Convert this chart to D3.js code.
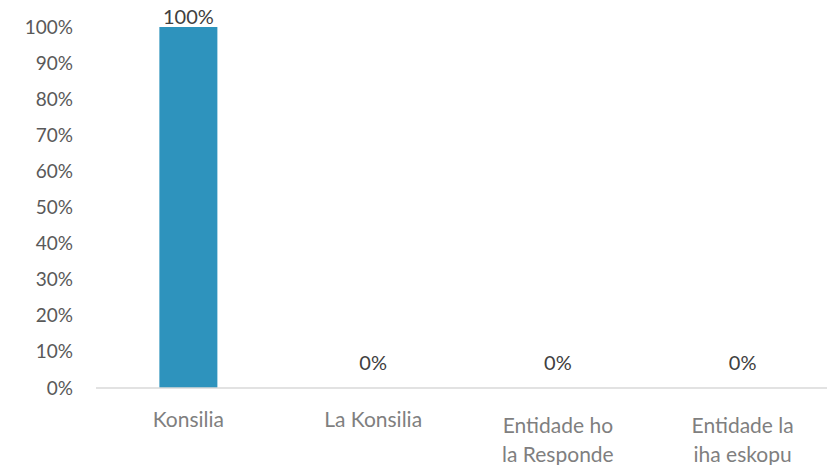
<!DOCTYPE html>
<html><head><meta charset="utf-8">
<script src="https://cdn.jsdelivr.net/npm/d3@7"></script>
<style>body{margin:0;background:#fff;overflow:hidden}svg{display:block}</style>
</head><body>
<script>
const categories = ["Konsilia", "La Konsilia", "Entidade ho la Responde", "Entidade la iha eskopu"];
const categoryLines = [["Konsilia"], ["La Konsilia"], ["Entidade ho", "la Responde"], ["Entidade la", "iha eskopu"]];
const values = [1.00, 0, 0, 0];
const yTicks = [0, 0.1, 0.2, 0.3, 0.4, 0.5, 0.6, 0.7, 0.8, 0.9, 1.0];

const W = 827, H = 465;
const m = {left: 96, top: 27, bottom: 77};
const plotRight = 835; // the original plot area runs slightly past the picture's right edge
const svg = d3.select("body").append("svg").attr("width", W).attr("height", H);
const font = "Lato, 'Open Sans', sans-serif";

const x = d3.scaleBand().domain(categories).range([m.left, plotRight]).paddingInner(0.686).paddingOuter(0.343);
const y = d3.scaleLinear().domain([0, 1]).range([H - m.bottom, m.top]);
const pct = d3.format(".0%");

// y axis labels
const yAxis = svg.append("g").attr("transform", `translate(${m.left},0)`)
  .call(d3.axisLeft(y).tickValues(yTicks).tickFormat(pct).tickSize(0).tickPadding(23));
yAxis.select(".domain").remove();
yAxis.selectAll("text").attr("font-family", font).attr("font-size", 19).attr("fill", "#595959");

// bars
svg.selectAll("rect.bar").data(values).join("rect").attr("class", "bar")
  .attr("x", (d, i) => x(categories[i]))
  .attr("width", x.bandwidth())
  .attr("y", d => y(d))
  .attr("height", d => y(0) - y(d))
  .attr("fill", "#2E93BD");

// baseline
svg.append("line").attr("x1", m.left).attr("x2", W)
  .attr("y1", y(0)).attr("y2", y(0)).attr("stroke", "#D9D9D9").attr("stroke-width", 1.5);

// data labels
svg.selectAll("text.val").data(values).join("text").attr("class", "val")
  .attr("x", (d, i) => x(categories[i]) + x.bandwidth() / 2)
  .attr("y", d => Math.min(y(d) - 3, y(0) - 18))
  .attr("text-anchor", "middle")
  .attr("font-family", font).attr("font-size", 20).attr("fill", "#404040")
  .text(d => pct(d));

// category labels
const cat = svg.selectAll("text.cat").data(categories).join("text").attr("class", "cat")
  .attr("x", d => x(d) + x.bandwidth() / 2)
  .attr("y", (d, i) => categoryLines[i].length > 1 ? 433 : 427)
  .attr("text-anchor", "middle")
  .attr("font-family", font).attr("font-size", 21).attr("fill", "#7F7F7F");
cat.each(function(d, i) {
  d3.select(this).selectAll("tspan").data(categoryLines[i]).join("tspan")
    .attr("x", x(d) + x.bandwidth() / 2)
    .attr("dy", (t, j) => j === 0 ? 0 : 29)
    .text(t => t);
});
</script>
</body></html>
